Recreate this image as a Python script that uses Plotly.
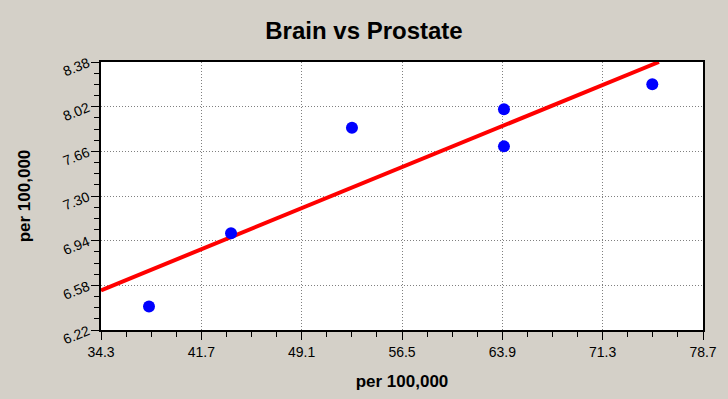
import plotly.graph_objects as go

# Data
brain_x = [37.84, 43.89, 52.81, 64.02, 64.02, 74.96]
prostate_y = [6.41, 7.00, 7.85, 8.00, 7.70, 8.20]
fit_x = [34.3, 75.45]
fit_y = [6.54, 8.38]
x_ticks = [34.3, 41.7, 49.1, 56.5, 63.9, 71.3, 78.7]
x_tick_labels = ["34.3", "41.7", "49.1", "56.5", "63.9", "71.3", "78.7"]
y_ticks = [6.22, 6.58, 6.94, 7.30, 7.66, 8.02, 8.38]
y_tick_labels = ["6.22", "6.58", "6.94", "7.30", "7.66", "8.02", "8.38"]

BG = "#D4D0C8"
FONT = "Liberation Sans, Arial, sans-serif"

fig = go.Figure()
fig.add_trace(go.Scatter(x=fit_x, y=fit_y, mode="lines",
                         line=dict(color="#FF0000", width=4), showlegend=False))
fig.add_trace(go.Scatter(x=brain_x, y=prostate_y, mode="markers",
                         marker=dict(color="#0000FF", size=12, line=dict(width=0)),
                         showlegend=False))

fig.update_layout(
    width=728, height=399,
    paper_bgcolor=BG, plot_bgcolor="white",
    margin=dict(l=101, r=25, t=62, b=69),
    title=dict(text="<b>Brain vs Prostate</b>", x=0.5, xanchor="center",
               y=1 - 31 / 399, yanchor="middle",
               font=dict(family=FONT, size=24, color="black")),
    font=dict(family=FONT, color="black"),
)

fig.update_xaxes(
    range=[34.3, 78.7], tickvals=x_ticks, ticktext=x_tick_labels,
    ticks="outside", ticklen=8, tickwidth=1, tickcolor="black",
    tickfont=dict(family=FONT, size=14, color="black"),
    showline=True, linecolor="black", linewidth=2, mirror=True,
    showgrid=True, gridcolor="#808080", griddash="1px,2px", gridwidth=1,
    zeroline=False,
    minor=dict(tick0=34.3, dtick=1.85, ticks="outside", ticklen=5,
               tickcolor="black", tickwidth=1, showgrid=False),
    title=dict(text="<b>per 100,000</b>", font=dict(family=FONT, size=17, color="black"),
               standoff=16),
)
fig.update_yaxes(
    range=[6.22, 8.38], tickvals=y_ticks, ticktext=y_tick_labels,
    ticks="outside", ticklen=8, tickwidth=1, tickcolor="black",
    tickfont=dict(family=FONT, size=14, color="black"), tickangle=-22,
    showline=True, linecolor="black", linewidth=2, mirror=True,
    showgrid=True, gridcolor="#808080", griddash="1px,2px", gridwidth=1,
    zeroline=False,
    minor=dict(tick0=6.22, dtick=0.09, ticks="outside", ticklen=5,
               tickcolor="black", tickwidth=1, showgrid=False),
    title=dict(text="<b>per 100,000</b>", font=dict(family=FONT, size=17, color="black"),
               standoff=26),
)

fig.write_html(
    "out.html",
    config={"displayModeBar": False},
    post_script="document.body.style.margin='0';document.body.style.padding='0';"
                "document.body.style.background='#D4D0C8';",
)
